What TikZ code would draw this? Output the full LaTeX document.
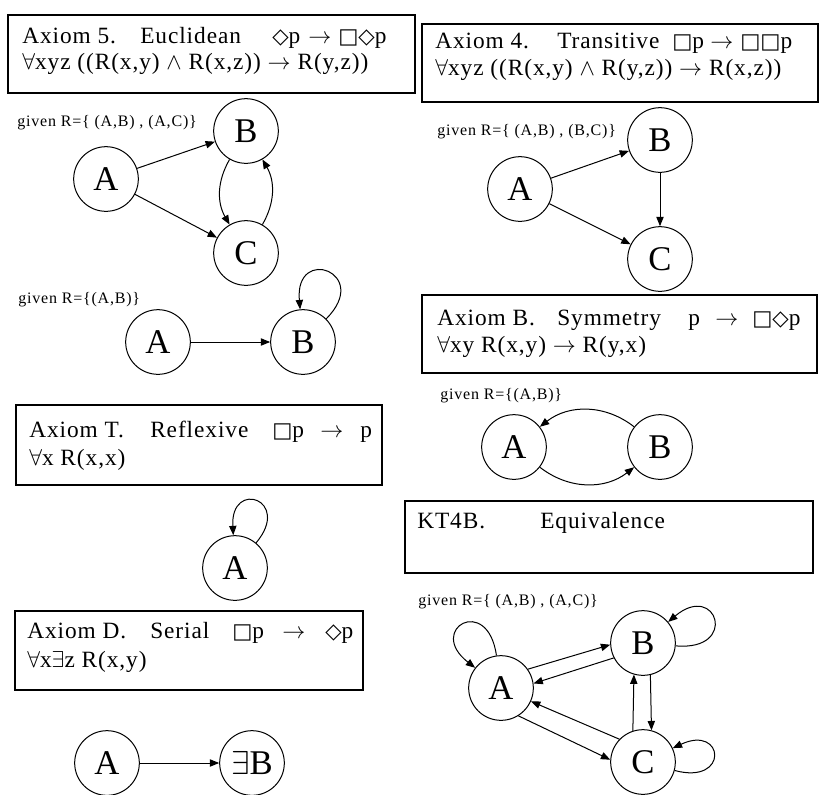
\documentclass[tikz,border=0pt]{standalone}
\usepackage{amssymb}
\usepackage{fontspec}
\setmainfont{Liberation Serif}
\newfontfamily\symfont{DejaVu Sans}
\usetikzlibrary{arrows.meta}
\newcommand{\bxs}{{\symfont\fontsize{16}{16}\selectfont □}}
\newcommand{\dms}{{\symfont\fontsize{16}{16}\selectfont ◇}}
\begin{document}
\begin{tikzpicture}[x=0.75pt,y=-0.75pt,
  box/.style={draw,line width=0.9pt},
  tx/.style={anchor=base west,inner sep=0pt,font=\fontsize{17.5}{21}\selectfont\addfontfeatures{LetterSpace=4}},
  gv/.style={anchor=base west,inner sep=0pt,font=\fontsize{12}{14}\selectfont\addfontfeatures{LetterSpace=5}},
  st/.style={circle,draw,line width=0.75pt,minimum size=48.5pt,inner sep=0pt,font=\fontsize{26}{26}\selectfont},
  arr/.style={-{Triangle[length=7pt,width=5.5pt]},line width=0.75pt}]
\useasboundingbox (0,0) rectangle (819,794);

% ---------- Axiom 5 ----------
\draw[box] (8,15) rectangle (415,93);
\node[tx] (e1) at (22,43) {Axiom 5.};
\node[tx] (e2) at (140,43) {Euclidean};
\node[tx] (e3) at (272,43) {\dms p};
\node[tx] (e4) at (308,43) {$\rightarrow$};
\node[tx] (e5) at (338,43) {\bxs\dms p};
\node[tx] (e6) at (22,69) {$\forall$xyz ((R(x,y) $\wedge$\ R(x,z)) $\rightarrow$ R(y,z))};
\node[gv] (eg) at (17,126) {given R=\{ (A,B) , (A,C)\}};
\node[st] (eA) at (106,179) {A};
\node[st] (eB) at (246,131) {B};
\node[st] (eC) at (246,253) {C};
\draw[arr] (eA) -- (eB);
\draw[arr] (eA) -- (eC);
\draw[arr] (eB) to[bend right=30] (eC);
\draw[arr] (eC) to[bend right=30] (eB);

% ---------- Axiom 4 ----------
\draw[box] (422,24) rectangle (818,102);
\node[tx] (f1) at (435,48) {Axiom 4.};
\node[tx] (f2) at (557,48) {Transitive};
\node[tx] (f3) at (672,48) {\bxs p};
\node[tx] (f4) at (710,48) {$\rightarrow$};
\node[tx] (f5) at (740,48) {\bxs\bxs p};
\node[tx] (f6) at (435,75) {$\forall$xyz ((R(x,y) $\wedge$\ R(y,z)) $\rightarrow$ R(x,z))};
\node[gv] (fg) at (437,135) {given R=\{ (A,B) , (B,C)\}};
\node[st] (fA) at (520,189) {A};
\node[st] (fB) at (660,140) {B};
\node[st] (fC) at (660,259) {C};
\draw[arr] (fA) -- (fB);
\draw[arr] (fA) -- (fC);
\draw[arr] (fB) -- (fC);

% ---------- R={(A,B)} with loop on B ----------
\node[gv] (gg) at (18,303) {given R=\{(A,B)\}};
\node[st] (gA) at (158,342) {A};
\node[st] (gB) at (303,342) {B};
\draw[arr] (gA) -- (gB);
\draw[arr] (gB.45) to[out=45,in=95,looseness=6] (gB.95);

% ---------- Axiom B ----------
\draw[box] (422,295) rectangle (817,373);
\node[tx] (h1) at (437,325) {Axiom B.};
\node[tx] (h2) at (557,325) {Symmetry};
\node[tx] (h3) at (688,325) {p};
\node[tx] (h4) at (715,325) {$\rightarrow$};
\node[tx] (h5) at (752,325) {\bxs\dms p};
\node[tx] (h6) at (437,352) {$\forall$xy R(x,y) $\rightarrow$ R(y,x)};
\node[gv] (hg) at (440,399) {given R=\{(A,B)\}};
\node[st] (hA) at (514,447) {A};
\node[st] (hB) at (660,447) {B};
\draw[arr] (hA) to[bend right=38] (hB);
\draw[arr] (hB) to[bend right=38] (hA);

% ---------- Axiom T ----------
\draw[box] (16,405) rectangle (382,485);
\node[tx] (t1) at (29,437) {Axiom T.};
\node[tx] (t2) at (150,437) {Reflexive};
\node[tx] (t3) at (272,437) {\bxs p};
\node[tx] (t4) at (320,437) {$\rightarrow$};
\node[tx] (t5) at (360,437) {p};
\node[tx] (t6) at (29,465) {$\forall$x R(x,x)};
\node[st] (tA) at (235,568) {A};
\draw[arr] (tA.50) to[out=50,in=93,looseness=6] (tA.93);

% ---------- KT4B ----------
\draw[box] (405,501) rectangle (813,573);
\node[tx] (k1) at (417,528) {KT4B.};
\node[tx] (k2) at (540,528) {Equivalence};
\node[gv] (kg) at (418,605) {given R=\{ (A,B) , (A,C)\}};
\node[st] (kA) at (501,688) {A};
\node[st] (kB) at (643,643) {B};
\node[st] (kC) at (643,762) {C};
\draw[arr] (kA.35) -- (kB.183);
\draw[arr] (kB.207) -- (kA.8);
\draw[arr] (kA.-58) -- (kC.176);
\draw[arr] (kC.136) -- (kA.-24);
\draw[arr] (kC.108) -- (kB.254);
\draw[arr] (kB.283) -- (kC.75);
\draw[arr] (kA.98) to[out=98,in=142,looseness=6.5] (kA.142);
\draw[arr] (kB.-5) to[out=-5,in=40,looseness=6.5] (kB.40);
\draw[arr] (kC.-15) to[out=-15,in=25,looseness=6.5] (kC.25);

% ---------- Axiom D ----------
\draw[box] (15,611) rectangle (363,690);
\node[tx] (d1) at (27,638) {Axiom D.};
\node[tx] (d2) at (150,638) {Serial};
\node[tx] (d3) at (232,638) {\bxs p};
\node[tx] (d4) at (282,638) {$\rightarrow$};
\node[tx] (d5) at (325,638) {\dms p};
\node[tx] (d6) at (27,667) {$\forall$x$\exists$z R(x,y)};
\node[st] (dA) at (107,763) {A};
\node[st] (dB) at (252,763) {$\exists$B};
\draw[arr] (dA) -- (dB);
\end{tikzpicture}
\end{document}
